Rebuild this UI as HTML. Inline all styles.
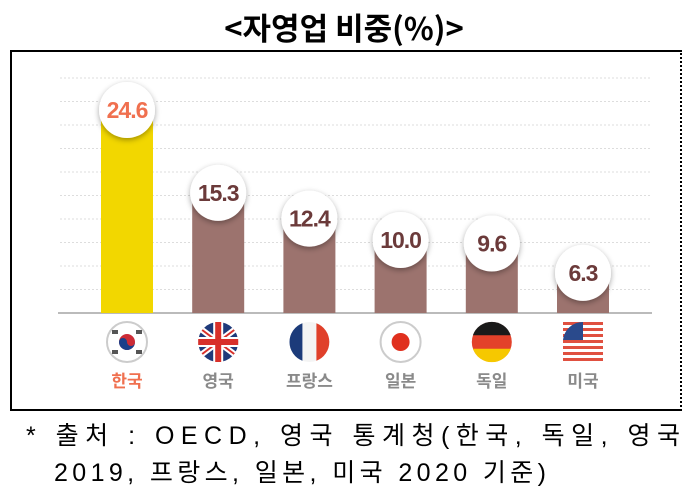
<!DOCTYPE html>
<html><head><meta charset="utf-8"><style>
body{margin:0;width:688px;height:503px;background:#fff;overflow:hidden;font-family:"Liberation Sans","Noto Sans CJK KR",sans-serif}
#title{position:absolute;left:0;width:688px;top:5px;text-align:center;font-size:31px;font-weight:bold;color:#000;font-family:"Noto Sans CJK KR",sans-serif;line-height:44px}
#frame{position:absolute;left:10px;top:50px;width:668px;height:357px;border-left:2px solid #000;border-top:2px solid #000;border-bottom:2px solid #000;border-right:2px dotted #000}
</style></head><body>
<div id="title">&lt;자영업 비중(%)&gt;</div>
<div id="frame"></div>
<svg id="chart" width="688" height="503" style="position:absolute;left:0;top:0">
<defs><filter id="sh" x="-50%" y="-50%" width="200%" height="200%"><feDropShadow dx="0" dy="2" stdDeviation="3" flood-color="#000" flood-opacity="0.35"/></filter></defs>
<text x="26" y="444" font-size="25" textLength="654" lengthAdjust="spacing" font-family="Liberation Sans,Noto Sans CJK KR,sans-serif">*  출처 : OECD, 영국 통계청(한국, 독일, 영국</text>
<text x="54" y="481" font-size="25" textLength="492" lengthAdjust="spacing" font-family="Liberation Sans,Noto Sans CJK KR,sans-serif">2019, 프랑스, 일본, 미국 2020 기준)</text>
</svg>
<script>
const categories=["한국","영국","프랑스","일본","독일","미국"];
const values=[24.6,15.3,12.4,10.0,9.6,6.3];
const labels=["24.6","15.3","12.4","10.0","9.6","6.3"];
const svg=document.getElementById('chart');const NS="http://www.w3.org/2000/svg";
function yS(v){return 329-8.9*v;}
function xS(i){return 127+91.2*i;}
function mk(t,a,p){const e=document.createElementNS(NS,t);for(const k in a)e.setAttribute(k,a[k]);(p||svg).appendChild(e);return e;}
for(let i=0;i<10;i++){const g=mk('line',{x1:60,x2:650,y1:78+23.5*i,y2:78+23.5*i,stroke:'#ddd','stroke-dasharray':'2,2'});}
const base=mk('line',{x1:58,x2:652,y1:313,y2:313,stroke:'#bbb','stroke-width':2});

values.forEach((v,i)=>{const cx=xS(i),top=yS(v);
const b=mk('rect',{x:cx-26,y:top,width:52,height:313-top,fill:i==0?'#f2d700':'#9c736e'});

const c=mk('circle',{cx:cx,cy:top,r:28,fill:'#fff',filter:'url(#sh)'});

const t=mk('text',{x:cx,y:top+8,'text-anchor':'middle','font-size':23,'font-weight':'bold',fill:i==0?'#f0704f':'#6b3a3a','letter-spacing':'-1'});t.textContent=labels[i];

const l=mk('text',{x:cx,y:387,'text-anchor':'middle','font-size':17,'font-weight':'bold',fill:i==0?'#f0704f':'#8a8a8a','font-family':'Noto Sans CJK KR,sans-serif'});l.textContent=categories[i];

const g=mk('g',{transform:`translate(${cx},342)`});
const R=20;
if(i==0){mk('circle',{r:R,fill:'#fff',stroke:'#ccc','stroke-width':2},g);mk('circle',{r:8,fill:'#cc2b36'},g);mk('path',{d:'M-8 0A8 8 0 0 0 8 0A4 4 0 0 1 0 0A4 4 0 0 0 -8 0Z',fill:'#1a3f8a'},g);
[[-12,-10],[12,-10],[-12,10],[12,10]].forEach(p=>mk('rect',{x:p[0]-3,y:p[1]-2,width:6,height:4,fill:'#555'},g));}
if(i==1){mk('circle',{r:R,fill:'#1f3a7a'},g);mk('path',{d:'M-16 -12L16 12M16 -12L-16 12',stroke:'#fff','stroke-width':6},g);mk('path',{d:'M-16 -12L16 12M16 -12L-16 12',stroke:'#d8302a','stroke-width':2},g);mk('rect',{x:-20,y:-5,width:40,height:10,fill:'#fff'},g);mk('rect',{x:-5,y:-20,width:10,height:40,fill:'#fff'},g);mk('rect',{x:-20,y:-3,width:40,height:6,fill:'#d8302a'},g);mk('rect',{x:-3,y:-20,width:6,height:40,fill:'#d8302a'},g);}
if(i==2){mk('circle',{r:R,fill:'#f4f4f4'},g);mk('path',{d:'M-7 -18.7A20 20 0 0 0 -7 18.7Z',fill:'#1c3b7a'},g);mk('path',{d:'M7 -18.7A20 20 0 0 1 7 18.7Z',fill:'#e0402a'},g);}
if(i==3){mk('circle',{r:R,fill:'#fff',stroke:'#ccc','stroke-width':2},g);mk('circle',{r:9,fill:'#e0301e'},g);}
if(i==4){mk('circle',{r:R,fill:'#e3412a'},g);mk('path',{d:'M-18.9 -6.7A20 20 0 0 1 18.9 -6.7Z',fill:'#1a1a1a'},g);mk('path',{d:'M-18.9 6.7A20 20 0 0 0 18.9 6.7Z',fill:'#f6c800'},g);}
if(i==5){mk('circle',{r:R,fill:'#fff'},g);for(let k=0;k<7;k++)mk('rect',{x:-20,y:-20+k*6,width:40,height:3,fill:'#e05040'},g);mk('path',{d:'M-20 -2H0V-20A20 20 0 0 0 -20 -2Z',fill:'#2a4a8c'},g);}
});
</script>
</body></html>
